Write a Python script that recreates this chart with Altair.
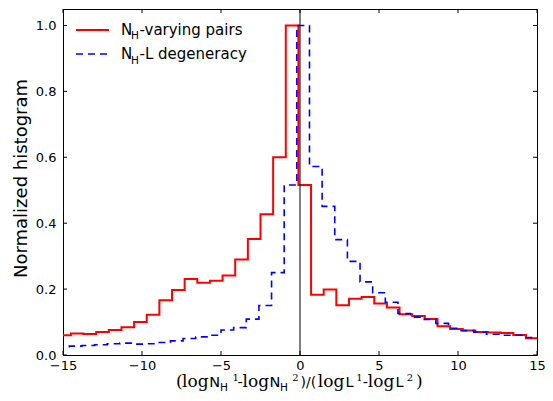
import altair as alt
import pandas as pd

# ---------------- data ----------------
bin_width = 0.8
red_start = -15.3
red_values = [0.060, 0.065, 0.064, 0.070, 0.076, 0.084, 0.100, 0.122, 0.166, 0.197,
              0.231, 0.219, 0.225, 0.241, 0.290, 0.352, 0.427, 0.600, 1.000, 0.516,
              0.183, 0.199, 0.151, 0.171, 0.176, 0.156, 0.144, 0.124, 0.118, 0.109,
              0.087, 0.079, 0.074, 0.070, 0.068, 0.067, 0.061, 0.051]
blue_start = -15.4
blue_values = [0.025, 0.027, 0.029, 0.031, 0.034, 0.036, 0.033, 0.034, 0.038, 0.043,
               0.050, 0.055, 0.060, 0.076, 0.083, 0.109, 0.150, 0.250, 0.516, 1.000,
               0.572, 0.451, 0.350, 0.284, 0.222, 0.189, 0.160, 0.126, 0.115, 0.108,
               0.096, 0.081, 0.074, 0.069, 0.063, 0.060, 0.060, 0.053]
x_ticks = [-15, -10, -5, 0, 5, 10, 15]
y_ticks = [0.0, 0.2, 0.4, 0.6, 0.8, 1.0]
zero_line = [0]

# ---------------- layout ----------------
W, H = 474, 346
TICK = 4
SANS = "DejaVu Sans"
SERIF = "DejaVu Serif"
LBL = 13


def steps(start, vals):
    xs = [round(start + bin_width * i, 3) for i in range(len(vals) + 1)]
    ys = list(vals) + [vals[-1]]
    return pd.DataFrame({"x": xs, "y": ys})


xscale = alt.Scale(domain=[-15, 15], nice=False, zero=False)
yscale = alt.Scale(domain=[0, 1.05], nice=False, zero=False)
xaxis = alt.Axis(values=x_ticks, title=None, grid=False, ticks=False, domain=False,
                 labelFont=SANS, labelFontSize=LBL, labelColor="black", labelPadding=4,
                 labelFlush=False, labelOverlap=False, labelBound=False)
yaxis = alt.Axis(values=y_ticks, format=".1f", title=None, grid=False, ticks=False,
                 domain=False, labelFont=SANS, labelFontSize=LBL, labelColor="black",
                 labelPadding=7, labelFlush=False, labelOverlap=False, labelBound=False)
xenc = alt.X("x:Q", scale=xscale, axis=xaxis)
yenc = alt.Y("y:Q", scale=yscale, axis=yaxis)

red = alt.Chart(steps(red_start, red_values)).mark_line(
    interpolate="step-after", color="#ff0000", strokeWidth=2, clip=True
).encode(x=xenc, y=yenc)

blue = alt.Chart(steps(blue_start, blue_values)).mark_line(
    interpolate="step-after", color="#0000ff", strokeWidth=1.6, strokeDash=[7, 5], clip=True
).encode(x=xenc, y=yenc)

zero = alt.Chart(pd.DataFrame({"x": zero_line})).mark_rule(
    color="black", strokeWidth=1
).encode(x=xenc)

xt = pd.DataFrame({"x": x_ticks})
yt = pd.DataFrame({"y": y_ticks})
tick_b = alt.Chart(xt).mark_rule(color="black", strokeWidth=1).encode(
    x=xenc, y=alt.value(H), y2=alt.value(H - TICK))
tick_t = alt.Chart(xt).mark_rule(color="black", strokeWidth=1).encode(
    x=xenc, y=alt.value(0), y2=alt.value(TICK))
tick_l = alt.Chart(yt).mark_rule(color="black", strokeWidth=1).encode(
    y=yenc, x=alt.value(0), x2=alt.value(TICK))
tick_r = alt.Chart(yt).mark_rule(color="black", strokeWidth=1).encode(
    y=yenc, x=alt.value(W), x2=alt.value(W - TICK))

one = pd.DataFrame({"a": [0]})


def txt(s, x, y, size, font=SANS, **kw):
    return alt.Chart(one).mark_text(
        text=s, font=font, fontSize=size, color="black", align=kw.pop("align", "left"),
        baseline="alphabetic", **kw
    ).encode(x=alt.value(x), y=alt.value(y))


# legend
leg_red = alt.Chart(one).mark_rule(color="#ff0000", strokeWidth=2).encode(
    x=alt.value(13), x2=alt.value(46), y=alt.value(21))
leg_blue = alt.Chart(one).mark_rule(color="#0000ff", strokeWidth=1.6, strokeDash=[7, 5]).encode(
    x=alt.value(13), x2=alt.value(45), y=alt.value(45))
legend_texts = [
    txt("N", 58, 26, 15), txt("H", 68, 30.3, 10.5), txt("-varying pairs", 76.5, 26, 15),
    txt("N", 58, 50.3, 15), txt("H", 68, 54.5, 10.5), txt("-L degeneracy", 76.5, 50.3, 15),
]

# y title
ytitle = txt("Normalized histogram", -36.3, 169.5, 18, align="center", angle=270)

# x title (pieces, mathtext-like)
MB, SB, PB = 377.5, 381.5, 371.5
xtitle = [
    txt("(", 113.0, MB, 17, SERIF),
    txt("log", 119.0, MB, 17, SERIF),
    txt("N", 146.3, MB, 14.5),
    txt("H", 157.0, SB, 10.5),
    txt("1", 169.5, PB, 10, SERIF),
    txt("-", 174.5, MB, 14.5),
    txt("log", 179.5, MB, 17, SERIF),
    txt("N", 206.5, MB, 14.5),
    txt("H", 217.0, SB, 10.5),
    txt("2", 229.2, PB, 10, SERIF),
    txt(")/(", 237.5, MB, 14),
    txt("log", 254.8, MB, 17, SERIF),
    txt("L", 282.5, MB, 14.5),
    txt("1", 293.2, PB, 10, SERIF),
    txt("-", 299.8, MB, 14.5),
    txt("log", 304.8, MB, 17, SERIF),
    txt("L", 332.5, MB, 14.5),
    txt("2", 343.8, PB, 10, SERIF),
    txt(")", 353.0, MB, 17, SERIF),
]

chart = alt.layer(
    red, blue, zero, tick_b, tick_t, tick_l, tick_r, leg_red, leg_blue,
    *legend_texts, ytitle, *xtitle
).properties(
    width=W, height=H,
    autosize=alt.AutoSizeParams(type="none"),
    padding={"left": 55, "top": 1, "right": 8, "bottom": 38},
    background="white",
).configure_view(stroke="black", strokeWidth=1)

chart.save("out.html", embed_options={"renderer": "svg", "actions": False})
